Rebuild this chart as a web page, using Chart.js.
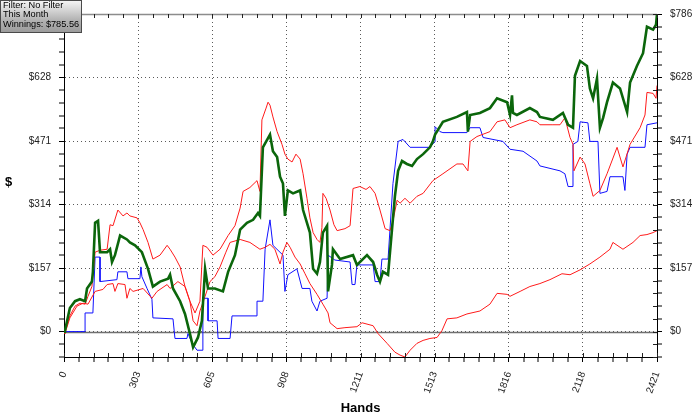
<!DOCTYPE html>
<html>
<head>
<meta charset="utf-8">
<script src="https://cdn.jsdelivr.net/npm/chart.js@4.4.0/dist/chart.umd.min.js"></script>
<style>
html,body{margin:0;padding:0;background:#fff;}
#wrap{position:relative;width:700px;height:419px;overflow:hidden;}
#c{display:block;}
#legend{position:absolute;left:0;top:0;height:33px;box-sizing:border-box;border:1px solid #4a4a4a;
  background:linear-gradient(#f4f4f4,#b4b4b4 60%,#9c9c9c);font:9.2px "Liberation Sans",Arial,sans-serif;line-height:9.4px;
  padding:0 2px 0 2px;color:#000;white-space:nowrap;}
#ytitle{position:absolute;left:5px;top:174px;font:bold 13px "Liberation Sans",Arial,sans-serif;color:#000;}
</style>
</head>
<body>
<div id="wrap">
<canvas id="c" width="700" height="419" style="width:700px;height:419px"></canvas>
<div id="legend">Filter: No Filter<br>This Month<br>Winnings: $785.56</div>
<div id="ytitle">$</div>
</div>
<script>
// ---- axis ranges and tick labels ----
const X_MAX = 2421;
const Y_MAX = 785.56;
const xTickLabels = ['0','303','605','908','1211','1513','1816','2118','2421'];
const yTickLabels = ['$0','$157','$314','$471','$628','$786'];
const xTitle = 'Hands';

// ---- series: hands (x) and dollars (y) ----
const greenHands = [0,4,24,45,65,86,94,114,118,127,139,147,176,188,196,208,229,257,269,290,318,343,363,392,425,433,445,474,494,514,527,547,563,576,588,616,649,670,698,719,747,772,792,800,812,841,853,870,882,894,902,914,935,964,976,1004,1017,1033,1045,1057,1074,1078,1094,1098,1127,1180,1196,1237,1262,1278,1290,1302,1323,1339,1351,1364,1380,1400,1421,1441,1466,1494,1506,1515,1547,1604,1645,1649,1658,1698,1739,1768,1809,1821,1829,1833,1849,1902,1931,1943,1996,2037,2058,2078,2086,2107,2135,2147,2160,2176,2188,2201,2217,2241,2270,2299,2311,2339,2364,2380,2405,2417,2421];
const greenValues = [0,2.4,58.2,75.2,80,75.2,106.7,123.7,147.9,269.1,274,196.4,196.4,203.7,172.1,189.1,237.6,227.9,220.6,213.4,196.4,155.2,111.5,123.7,130.9,140.6,106.7,75.2,43.6,-4.8,-38.8,-14.5,26.7,155.2,106.7,106.7,99.4,147.9,189.1,252.2,269.1,276.4,293.4,286.1,455.8,487.3,446.1,431.6,383.1,366.1,286.1,349.1,341.9,349.1,300.7,244.9,155.2,143.1,172.1,244.9,261.9,99.4,164.9,203.7,179.4,189.1,164.9,189.1,172.1,140.6,123.7,147.9,140.6,252.2,334.6,397.6,421.9,414.6,409.8,426.7,438.9,455.8,470.4,487.3,518.9,531,543.1,494.6,535.8,540.7,552.8,577.1,567.4,535.8,584.3,540.7,535.8,552.8,543.1,531,523.7,540.7,511.6,504.3,632.8,669.2,657.1,601.3,577.1,625.5,504.3,528.6,567.4,615.9,601.3,543.1,615.9,657.1,688.6,754.1,746.8,758.9,785.56];

const evHands = [0,12,24,45,65,86,98,114,127,147,176,188,200,220,241,257,269,298,310,323,343,363,392,421,433,453,474,494,514,535,555,567,584,608,637,670,698,719,731,759,788,800,808,825,833,841,853,870,890,902,914,931,947,964,976,992,1004,1017,1033,1045,1053,1057,1070,1086,1102,1115,1147,1168,1180,1208,1233,1249,1270,1290,1311,1331,1343,1360,1372,1392,1413,1441,1466,1506,1547,1604,1629,1649,1658,1686,1739,1768,1800,1821,1849,1902,1931,1943,1996,2025,2045,2066,2078,2082,2107,2127,2147,2160,2188,2217,2258,2282,2311,2352,2372,2380,2405,2417,2421];
const evValues = [0,14.5,38.8,63,70.3,67.9,87.3,111.5,196.4,201.2,203.7,264.3,261.9,300.7,286.1,293.4,286.1,281.3,269.1,252.2,220.6,179.4,189.1,213.4,203.7,184.3,160,111.5,75.2,46.1,75.2,213.4,208.5,189.1,203.7,237.6,261.9,305.5,346.7,356.4,373.4,346.7,523.7,552.8,567.4,560.1,531,494.6,463.1,438.9,426.7,419.5,438.9,426.7,390.4,329.7,281.3,244.9,227.9,220.6,257,341.9,329.7,300.7,264.3,249.7,254.6,261.9,354,358.8,351.6,358.8,341.9,300.7,254.6,249.7,274,324.9,317.6,329.7,317.6,334.6,341.9,373.4,390.4,414.6,414.6,397.6,470.4,482.5,494.6,518.9,523.7,504.3,511.6,523.7,518.9,511.6,511.6,511.6,528.6,480.1,463.1,397.6,431.6,414.6,366.1,334.6,349.1,390.4,455.8,407.3,463.1,504.3,535.8,591.6,589.2,577.1,608.6];

const nsdHands = [0,4,24,53,78,98,127,159,176,200,208,220,249,257,269,282,323,359,380,421,433,465,494,514,527,543,555,576,596,616,637,661,678,719,759,800,821,841,861,882,894,910,923,943,964,984,1004,1033,1057,1078,1086,1115,1147,1196,1217,1262,1282,1319,1351,1372,1392,1413,1441,1466,1494,1523,1543,1564,1604,1645,1698,1739,1768,1809,1821,1862,1902,1943,1984,2033,2066,2107,2147,2188,2229,2241,2282,2323,2352,2380,2405,2421];
const nsdValues = [0,-4.8,33.9,63,70.3,67.9,99.4,104.3,116.4,118.8,99.4,118.8,116.4,82.4,106.7,99.4,106.7,82.4,99.4,116.4,106.7,123.7,111.5,75.2,26.7,14.5,50.9,87.3,123.7,135.8,160,196.4,220.6,227.9,220.6,203.7,208.5,215.8,203.7,167.3,196.4,220.6,208.5,184.3,167.3,143.1,118.8,92.1,67.9,46.1,21.8,7.3,9.7,12.1,21.8,14.5,-4.8,-29.1,-50.9,-58.2,-62.8,-46.1,-29.1,-21.8,-17,-14.5,2.4,31.5,33.9,43.6,50.9,67.9,94.6,92.1,87.3,99.4,111.5,118.8,128.5,143.1,140.6,152.7,167.3,184.3,203.7,220.6,203.7,220.6,237.6,240,244.9,249.7];

const sdHands = [0,86,86,118,127,147,147,216,220,257,261,310,314,318,339,359,363,445,453,502,506,523,543,567,567,588,588,625,629,678,686,788,788,812,821,841,853,894,902,914,951,972,1004,1012,1033,1045,1074,1078,1106,1168,1176,1188,1196,1262,1270,1290,1298,1323,1343,1364,1384,1413,1494,1515,1515,1535,1547,1645,1658,1698,1711,1792,1821,1874,1931,1943,2025,2045,2058,2078,2078,2098,2107,2139,2147,2180,2188,2217,2229,2282,2290,2299,2311,2372,2380,2421];
const sdValues = [0,0,46.1,46.1,184.3,184.3,123.7,128.5,147.9,147.9,130.9,130.9,160,135.8,106.7,80,33.9,31.5,-17,-17,-4.8,-29.1,-46.1,-46.1,82.4,82.4,26.7,26.7,-17,-17,38.8,38.8,75.2,75.2,203.7,276.4,213.4,189.1,99.4,140.6,155.2,106.7,106.7,75.2,50.9,75.2,82.4,189.1,177,172.1,116.4,116.4,164.9,164.9,123.7,123.7,179.4,179.4,366.1,470.4,475.2,455.8,455.8,470.4,506.7,494.6,492.2,492.2,504.3,504.3,480.1,470.4,451,446.1,421.9,409.8,397.6,390.4,358.8,358.8,463.1,470.4,518.9,516.4,470.4,470.4,341.9,346.7,383.1,383.1,349.1,438.9,455.8,455.8,511.6,516.4];

// ---- tick helpers ----
const xMajor = X_MAX / 8, xMinor = X_MAX / 40;
const yMajor = Y_MAX / 5, yMinor = Y_MAX / 25;
const Y_MIN = -2 * yMinor;
function isMajor(v, step){ const r = v / step; return Math.abs(r - Math.round(r)) < 1e-6; }
function pts(xs, ys){ return xs.map((x, i) => ({x: x, y: ys[i]})); }

const FONT = '"Liberation Sans", Arial, sans-serif';

const decor = {
  id: 'decor',
  beforeDatasetsDraw(chart){
    const {ctx, chartArea: a, scales: {y}} = chart;
    ctx.save();
    const y0 = Math.round(y.getPixelForValue(0)) + 0.5;
    ctx.strokeStyle = '#707070'; ctx.lineWidth = 1.5;
    ctx.beginPath(); ctx.moveTo(a.left, y0); ctx.lineTo(a.right, y0); ctx.stroke();
    ctx.strokeStyle = '#8c8c8c'; ctx.lineWidth = 1.5;
    ctx.beginPath(); ctx.moveTo(a.left, a.top + 0.5); ctx.lineTo(a.right, a.top + 0.5); ctx.stroke();
    ctx.restore();
  },
  afterDraw(chart){
    const {ctx, chartArea: a, scales: {x, y}} = chart;
    ctx.save(); ctx.strokeStyle = '#222'; ctx.lineWidth = 1;
    ctx.beginPath();
    x.ticks.forEach(t => {
      const px = Math.round(x.getPixelForValue(t.value)) + 0.5;
      ctx.moveTo(px, a.bottom); ctx.lineTo(px, a.bottom - 4);
      ctx.moveTo(px, a.top); ctx.lineTo(px, a.top + 4);
    });
    y.ticks.forEach(t => {
      const py = Math.round(y.getPixelForValue(t.value)) + 0.5;
      ctx.moveTo(a.right, py); ctx.lineTo(a.right - 4, py);
    });
    ctx.stroke(); ctx.restore();
  }
};

const yAxisCommon = (pos, width, pad) => ({
  type: 'linear', position: pos, min: Y_MIN, max: Y_MAX,
  afterBuildTicks: s => { const t = []; for (let i = -2; i <= 25; i++) t.push({value: i * yMinor}); s.ticks = t; },
  afterFit: s => { s.width = width; },
  ticks: {
    autoSkip: false, padding: pad, color: '#222', font: {family: FONT, size: 10},
    callback: v => (isMajor(v, yMajor) && v > -1e-6) ? yTickLabels[Math.round(v / yMajor)] : ''
  },
  grid: {
    drawOnChartArea: pos === 'left',
    color: '#5a5a5a',
    lineWidth: c => (c.tick && isMajor(c.tick.value, yMajor)) ? 1 : 0,
    tickColor: '#000', tickWidth: 1, tickLength: 5
  },
  border: {color: '#000', width: 1, dash: [1, 3]}
});

new Chart(document.getElementById('c'), {
  type: 'line',
  data: {
    datasets: [
      {label: 'Winnings', data: pts(greenHands, greenValues), borderColor: '#0b660b', borderWidth: 2.6, order: 0},
      {label: 'All-in EV', data: pts(evHands, evValues), borderColor: '#ff1a1a', borderWidth: 1, order: 1},
      {label: 'Non-showdown', data: pts(nsdHands, nsdValues), borderColor: '#ff1a1a', borderWidth: 1, order: 2},
      {label: 'Showdown', data: pts(sdHands, sdValues), borderColor: '#1010ff', borderWidth: 1, order: 3}
    ]
  },
  options: {
    responsive: false, animation: false,
    layout: {padding: {top: 7, left: 0, right: 0, bottom: 0}},
    elements: {point: {radius: 0}, line: {tension: 0, fill: false}},
    plugins: {legend: {display: false}, tooltip: {enabled: false}},
    scales: {
      x: {
        type: 'linear', min: 0, max: X_MAX,
        afterBuildTicks: s => { const t = []; for (let i = 0; i <= 40; i++) t.push({value: i * xMinor}); s.ticks = t; },
        afterFit: s => { s.height = 62; },
        ticks: {
          autoSkip: false, minRotation: 70, maxRotation: 70, padding: 8, color: '#222',
          font: {family: FONT, size: 10},
          callback: v => isMajor(v, xMajor) ? xTickLabels[Math.round(v / xMajor)] : ''
        },
        grid: {
          color: '#5a5a5a',
          lineWidth: c => (c.tick && isMajor(c.tick.value, xMajor)) ? 1 : 0,
          tickColor: '#000', tickWidth: 1, tickLength: 5
        },
        border: {color: '#000', width: 1, dash: [1, 3]},
        title: {display: true, text: xTitle, color: '#000', font: {family: FONT, size: 13, weight: 'bold'}, padding: {top: 0, bottom: 3}}
      },
      y: yAxisCommon('left', 64, 8),
      y2: yAxisCommon('right', 43, 8)
    }
  },
  plugins: [decor]
});
</script>
</body>
</html>
